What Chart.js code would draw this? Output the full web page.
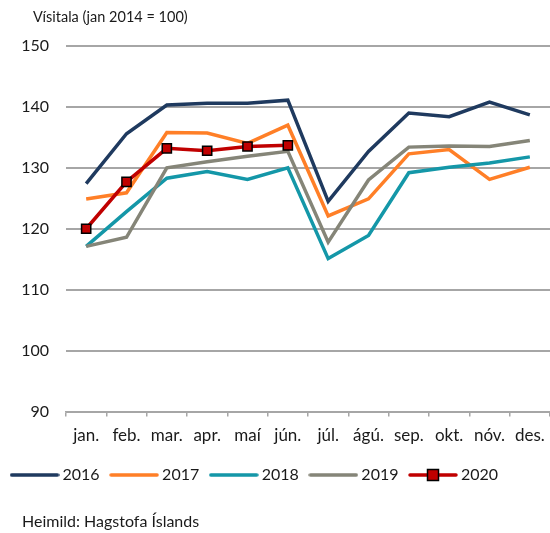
<!DOCTYPE html>
<html>
<head>
<meta charset="utf-8">
<script src="https://cdn.jsdelivr.net/npm/chart.js@4"></script>
<style>
  html, body { margin: 0; padding: 0; background: #fff; }
  #wrap { position: relative; width: 550px; height: 533px; font-family: Lato, "Noto Sans", sans-serif; color: #1a1a1a; }
  #title { position: absolute; left: 33px; top: 8px; font-size: 14.5px; }
  #source { position: absolute; left: 22px; top: 511px; font-size: 16px; }
  canvas { position: absolute; left: 0; top: 0; }
</style>
</head>
<body>
<div id="wrap">
  <canvas id="c" width="550" height="533"></canvas>
  <div id="title">Vísitala (jan 2014 = 100)</div>
  <div id="source">Heimild: Hagstofa Íslands</div>
</div>
<script>
const months = ['jan.','feb.','mar.','apr.','maí','jún.','júl.','ágú.','sep.','okt.','nóv.','des.'];
const yTicks = [90, 100, 110, 120, 130, 140, 150];
const years = ['2016','2017','2018','2019','2020'];
const s2016 = [127.4,135.6,140.3,140.6,140.6,141.1,124.5,132.7,139.0,138.4,140.8,138.7];
const s2017 = [124.9,125.9,135.8,135.7,134.0,137.0,122.1,124.9,132.3,133.0,128.1,130.1];
const s2018 = [117.1,122.8,128.3,129.4,128.1,130.0,115.1,118.9,129.2,130.1,130.8,131.8];
const s2019 = [117.1,118.6,130.0,131.0,131.9,132.7,117.8,128.0,133.4,133.6,133.5,134.5];
const s2020 = [120.0,127.7,133.2,132.8,133.5,133.7];

const colors = ['#1f3a5f', '#ff7f27', '#1497a8', '#858578', '#c00000'];
const series = [s2016, s2017, s2018, s2019, s2020];

function swatch(color, marker) {
  const cv = document.createElement('canvas');
  cv.width = 50; cv.height = 16;
  const g = cv.getContext('2d');
  g.strokeStyle = color; g.lineWidth = 3.5; g.lineCap = 'round';
  g.beginPath(); g.moveTo(2, 8); g.lineTo(48, 8); g.stroke();
  if (marker) {
    g.fillStyle = color; g.fillRect(19.5, 2.5, 11, 11);
    g.strokeStyle = '#000'; g.lineWidth = 1.5; g.strokeRect(19.5, 2.5, 11, 11);
  }
  return cv;
}
const swatches = colors.map((c, i) => swatch(c, i === 4));

const datasets = series.map((d, i) => ({
  label: years[i],
  data: d,
  borderColor: colors[i],
  backgroundColor: colors[i],
  borderWidth: 3.5,
  tension: 0,
  order: 5 - i,
  pointStyle: 'rect',
  pointRadius: i === 4 ? 6.5 : 0,
  pointHoverRadius: i === 4 ? 6.5 : 0,
  pointBackgroundColor: colors[i],
  pointBorderColor: '#000',
  pointBorderWidth: i === 4 ? 1.5 : 0
}));

const FONT = { family: 'Lato, "Noto Sans", sans-serif', size: 16 };
const XFONT = { family: 'Lato, "Noto Sans", sans-serif', size: 17 };

new Chart(document.getElementById('c'), {
  type: 'line',
  data: { labels: months, datasets },
  options: {
    responsive: false,
    animation: false,
    layout: { autoPadding: false, padding: { top: 46, left: 0, right: 0, bottom: 40 } },
    plugins: {
      tooltip: { enabled: false },
      title: { display: false },
      legend: {
        position: 'bottom',
        align: 'start',
        labels: {
          usePointStyle: true,
          pointStyleWidth: 40,
          padding: 14.5,
          color: '#1a1a1a',
          font: FONT,
          sort: (a, b) => a.datasetIndex - b.datasetIndex,
          generateLabels: (chart) => chart.data.datasets.map((ds, i) => ({
            text: ds.label,
            datasetIndex: i,
            pointStyle: swatches[i],
            fillStyle: ds.borderColor,
            strokeStyle: ds.borderColor,
            lineWidth: 0,
            hidden: false,
            fontColor: '#1a1a1a'
          }))
        }
      }
    },
    scales: {
      x: {
        offset: true,
        grid: { display: true, drawOnChartArea: false, drawTicks: true, tickLength: 5, offset: true, color: '#a6a6a6', lineWidth: 1.5 },
        border: { display: true, color: '#a6a6a6', width: 1.5 },
        ticks: { color: '#1a1a1a', font: XFONT, padding: 9, maxRotation: 0, autoSkip: false },
        afterFit: (s) => { s.height = 41; s.paddingLeft = 0; s.paddingRight = 0; }
      },
      y: {
        min: 90, max: 150,
        afterBuildTicks: (s) => { s.ticks = yTicks.map(v => ({ value: v })); },
        grid: { color: '#a6a6a6', lineWidth: 2, drawTicks: false },
        border: { display: false },
        ticks: { color: '#1a1a1a', font: FONT, padding: 17 },
        afterFit: (s) => { s.width = 66; }
      }
    }
  }
});
</script>
</body>
</html>
